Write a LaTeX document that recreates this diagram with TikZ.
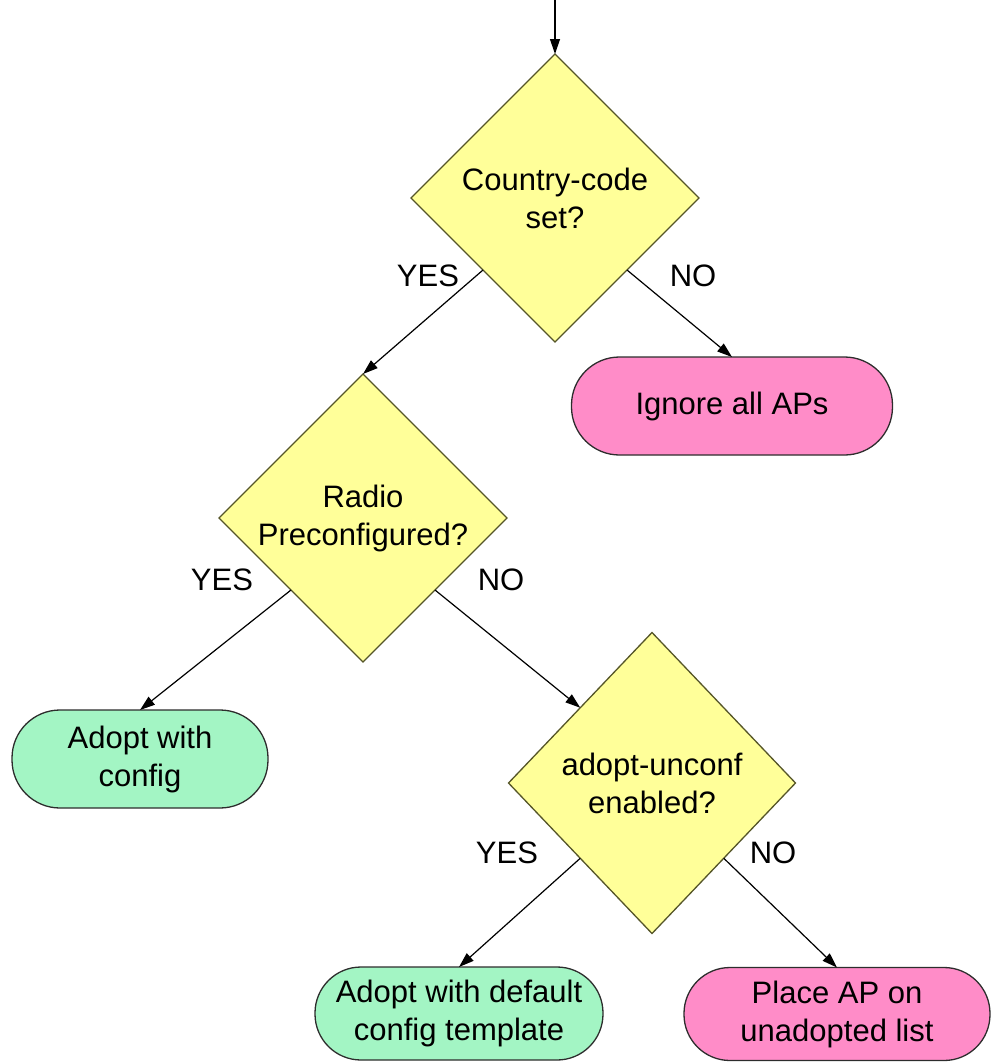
\documentclass[tikz,border=0pt]{standalone}
\usepackage{fontspec}
\setmainfont{Liberation Sans}
\usetikzlibrary{shapes.geometric,arrows.meta}

\definecolor{decfill}{RGB}{255,255,153}
\definecolor{decline}{RGB}{85,85,40}
\definecolor{okfill}{RGB}{163,245,196}
\definecolor{stopfill}{RGB}{255,140,200}
\definecolor{boxline}{RGB}{45,45,45}

\begin{document}
\begin{tikzpicture}[x=1pt,y=-1pt,
  every node/.style={font=\fontsize{31}{38}\selectfont, text=black, align=center},
  decision/.style={diamond, draw=decline, fill=decfill, line width=1.3pt,
    inner sep=0pt, outer sep=0pt, minimum width=288pt, minimum height=288pt},
  okbox/.style={rectangle, rounded corners=48pt, draw=boxline, fill=okfill,
    line width=1.3pt, outer sep=0pt},
  stopbox/.style={rectangle, rounded corners=48pt, draw=boxline, fill=stopfill,
    line width=1.3pt, outer sep=0pt},
  flow/.style={draw=black, line width=1.2pt, -{Triangle[length=15pt,width=10pt]}},
  lbl/.style={inner sep=0pt}]

\useasboundingbox (0,0) rectangle (995,1063);

% entry point at the top edge
\coordinate (entry) at (555,0);

% decisions
\node[decision] (cc) at (555,198) {Country-code\\set?};
\node[decision] (radio) at (363,518) {Radio\\Preconfigured?};
\node[decision, minimum width=287pt, minimum height=301pt] (unconf) at (652,783) {adopt-unconf\\enabled?};

% outcomes
\node[stopbox, minimum width=321pt, minimum height=98pt] (ignore) at (732,406) {Ignore all APs};
\node[okbox, minimum width=256pt, minimum height=98pt] (adoptcfg) at (140,759) {Adopt with\\config};
\node[okbox, minimum width=288pt, minimum height=93pt, rounded corners=46pt] (adoptdef) at (459,1013.5) {Adopt with default\\config template};
\node[stopbox, minimum width=306pt, minimum height=93pt, rounded corners=46pt] (unadopted) at (837,1014) {Place AP on\\unadopted list};

% connectors
\draw[flow] (entry) -- (cc.north);
\draw[flow] (cc.south west) -- (radio.north);
\draw[flow] (cc.south east) -- (ignore.north);
\draw[flow] (radio.south west) -- (adoptcfg.north);
\draw[flow] (radio.south east) -- (unconf.north west);
\draw[flow] (unconf.south west) -- (adoptdef.north);
\draw[flow] (unconf.south east) -- (unadopted.north);

% branch labels
\node[lbl] (y1) at (428,276) {YES};
\node[lbl] (n1) at (693,276) {NO};
\node[lbl] (y2) at (222,580) {YES};
\node[lbl] (n2) at (501,580) {NO};
\node[lbl] (y3) at (507,853) {YES};
\node[lbl] (n3) at (773,853) {NO};
\end{tikzpicture}
\end{document}
